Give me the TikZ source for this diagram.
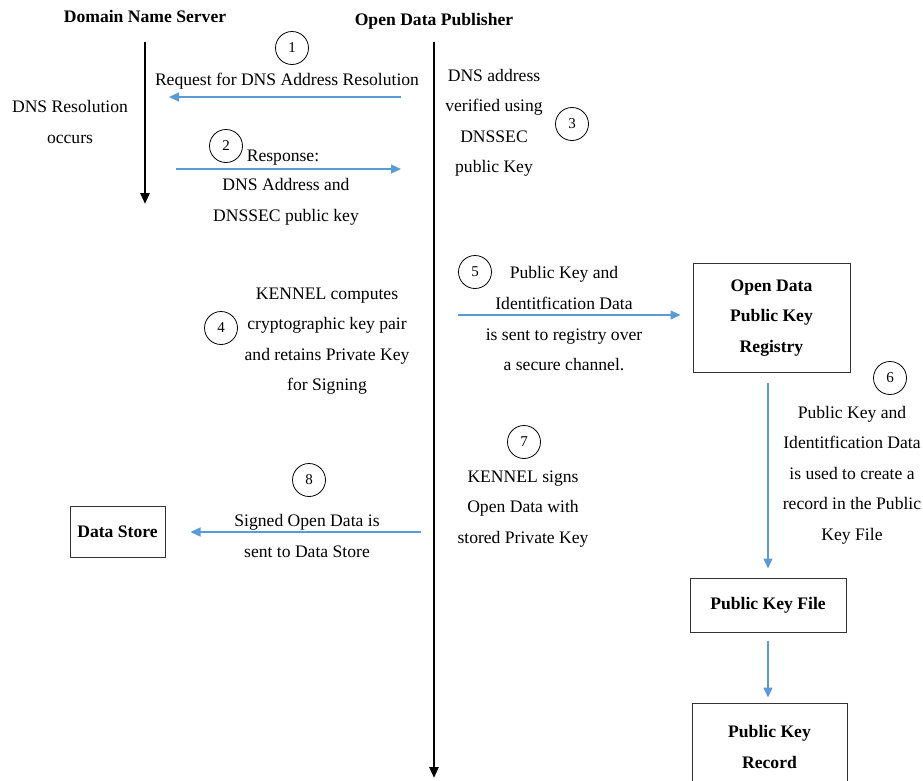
\documentclass[tikz,border=0pt]{standalone}
\usepackage{fontspec}
\setmainfont{Liberation Serif}
\usetikzlibrary{arrows.meta}
\definecolor{arrblue}{RGB}{91,155,213}
\begin{document}
\begin{tikzpicture}[x=1pt,y=-1pt,
  txt/.style={align=center,inner sep=0pt,font=\fontsize{17.6}{30.5}\selectfont},
  hdr/.style={inner sep=0pt,font=\fontsize{17.6}{20}\selectfont\bfseries},
  num/.style={circle,draw,line width=0.8pt,minimum size=33pt,inner sep=0pt,font=\fontsize{15}{17}\selectfont},
  boxn/.style={draw=black!80,line width=1pt,align=center,inner sep=0pt,font=\fontsize{17.6}{30.5}\selectfont\bfseries},
  life/.style={line width=2.6pt,-{Triangle[length=11pt,width=9pt]}},
  msg/.style={arrblue,line width=1.2pt,-{Triangle[length=10pt,width=9pt]}}]
\useasboundingbox (0,0) rectangle (923,780);

% headers
\node[hdr] (dnsh) at (145,16) {Domain Name Server};
\node[hdr] (odph) at (434,21) {Open Data Publisher};

% lifelines
\coordinate (dnsT) at (145,42);
\coordinate (dnsB) at (145,204);
\coordinate (odpT) at (434,42);
\coordinate (odpB) at (434,778);
\draw[life] (dnsT) -- (dnsB);
\draw[life] (odpT) -- (odpB);

% step 1
\node[num] (n1) at (292,48) {1};
\node[txt] (t1) at (287,81) {Request for DNS Address Resolution};
\coordinate (a1s) at (401,97);
\coordinate (a1e) at (169,97);
\draw[msg] (a1s) -- (a1e);
\node[txt] (tres) at (70,122) {DNS Resolution\\occurs};

% step 2
\node[num] (n2) at (226,146) {2};
\node[txt] (t2a) at (283,158) {Response:};
\coordinate (a2s) at (176,169);
\coordinate (a2e) at (401,169);
\draw[msg] (a2s) -- (a2e);
\node[txt] (t2b) at (286,202) {DNS Address and\\DNSSEC public key};

% step 3
\node[txt] (t3) at (494,123) {DNS address\\verified using\\DNSSEC\\public Key};
\node[num] (n3) at (572,124) {3};

% step 4
\node[num] (n4) at (221,328) {4};
\node[txt] (t4) at (327,341) {KENNEL computes\\cryptographic key pair\\and retains Private Key\\for Signing};

% step 5
\node[num] (n5) at (475,272) {5};
\node[txt] (t5a) at (564,288) {Public Key and\\Identitfication Data};
\node[txt] (t5b) at (564,350) {is sent to registry over\\a secure channel.};
\node[boxn,minimum width=157pt,minimum height=109pt] (reg) at (771.5,318) {Open Data\\Public Key\\Registry};
\coordinate (a5s) at (458,315);
\draw[msg,shorten >=12pt] (a5s) -- (reg.west |- a5s);

% step 6
\node[num] (n6) at (890,378) {6};
\node[txt] (t6) at (852,475) {Public Key and\\Identitfication Data\\is used to create a\\record in the Public\\Key File};
\node[boxn,minimum width=156pt,minimum height=54pt] (pkf) at (768,605) {Public Key File};
\node[boxn,minimum width=155pt,minimum height=88pt] (pkr) at (769.5,747) {Public Key\\Record};
\draw[msg,shorten <=10pt,shorten >=9pt] (reg.south -| pkf.north) -- (pkf.north);
\draw[msg,shorten <=8pt,shorten >=5pt] (pkf.south) -- (pkf.south |- pkr.north);

% step 7
\node[num] (n7) at (524,442) {7};
\node[txt] (t7) at (523,509) {KENNEL signs\\Open Data with\\stored Private Key};

% step 8
\node[num] (n8) at (309,480) {8};
\node[txt] (t8) at (307,536) {Signed Open Data is\\sent to Data Store};
\node[boxn,minimum width=95pt,minimum height=51pt] (ds) at (117.5,532) {Data Store};
\coordinate (a8s) at (421,532);
\draw[msg,shorten >=25pt] (a8s) -- (ds.east |- a8s);
\end{tikzpicture}
\end{document}
